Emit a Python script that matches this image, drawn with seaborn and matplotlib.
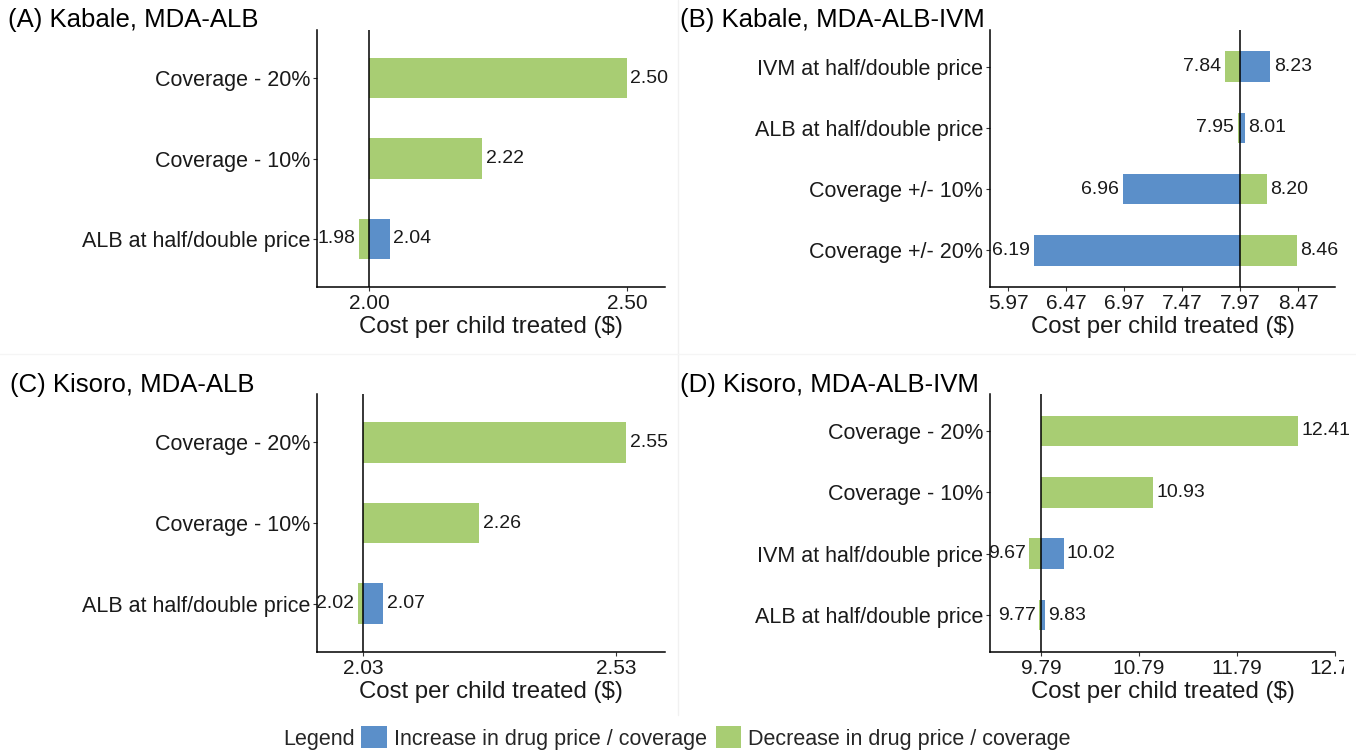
import matplotlib
matplotlib.use("Agg")
import matplotlib.pyplot as plt
import seaborn as sns
import pandas as pd
from matplotlib.patches import Patch
from matplotlib.transforms import Bbox, TransformedBbox

sns.set_theme(style="white")
plt.rcParams['font.family'] = ['Liberation Sans', 'DejaVu Sans']

BLUE = "#5B8FC9"
GREEN = "#A8CD73"

# ---------------- data ----------------
# (A) Kabale, MDA-ALB
a_params = ["Coverage - 20%", "Coverage - 10%", "ALB at half/double price"]
a_base = 2.00
a_low = [None, None, 1.98]
a_high = [2.50, 2.22, 2.04]
a_low_col = [None, None, "dec"]
a_high_col = ["dec", "dec", "inc"]
a_ticks = [2.00, 2.50]
a_ticklabels = ["2.00", "2.50"]

# (B) Kabale, MDA-ALB-IVM
b_params = ["IVM at half/double price", "ALB at half/double price",
            "Coverage +/- 10%", "Coverage +/- 20%"]
b_base = 7.97
b_low = [7.84, 7.95, 6.96, 6.19]
b_high = [8.23, 8.01, 8.20, 8.46]
b_low_col = ["dec", "dec", "inc", "inc"]
b_high_col = ["inc", "inc", "dec", "dec"]
b_ticks = [5.97, 6.47, 6.97, 7.47, 7.97, 8.47]
b_ticklabels = ["5.97", "6.47", "6.97", "7.47", "7.97", "8.47"]

# (C) Kisoro, MDA-ALB
c_params = ["Coverage - 20%", "Coverage - 10%", "ALB at half/double price"]
c_base = 2.03
c_low = [None, None, 2.02]
c_high = [2.55, 2.26, 2.07]
c_low_col = [None, None, "dec"]
c_high_col = ["dec", "dec", "inc"]
c_ticks = [2.03, 2.53]
c_ticklabels = ["2.03", "2.53"]

# (D) Kisoro, MDA-ALB-IVM
d_params = ["Coverage - 20%", "Coverage - 10%", "IVM at half/double price",
            "ALB at half/double price"]
d_base = 9.79
d_low = [None, None, 9.67, 9.77]
d_high = [12.41, 10.93, 10.02, 9.83]
d_low_col = [None, None, "dec", "dec"]
d_high_col = ["dec", "dec", "inc", "inc"]
d_ticks = [9.79, 10.79, 11.79, 12.79]
d_ticklabels = ["9.79", "10.79", "11.79", "12.79"]

titles = ["(A) Kabale, MDA-ALB", "(B) Kabale, MDA-ALB-IVM",
          "(C) Kisoro, MDA-ALB", "(D) Kisoro, MDA-ALB-IVM"]
legend_labels = ["Increase in drug price / coverage",
                 "Decrease in drug price / coverage"]
xlabel = "Cost per child treated ($)"

# ---------------- layout ----------------
W, H = 1356, 751
fig = plt.figure(figsize=(W / 100, H / 100), dpi=100)


def box(l, t, r, b):
    return [l / W, 1 - b / H, (r - l) / W, (b - t) / H]


panels = [
    dict(params=a_params, base=a_base, low=a_low, high=a_high, lc=a_low_col, hc=a_high_col,
         ticks=a_ticks, tl=a_ticklabels, rect=box(317, 30, 665, 287), xlim=(1.899, 2.574),
         title_xy=(8, 20)),
    dict(params=b_params, base=b_base, low=b_low, high=b_high, lc=b_low_col, hc=b_high_col,
         ticks=b_ticks, tl=b_ticklabels, rect=box(990, 30, 1335, 287), xlim=(5.815, 8.789),
         title_xy=(680, 20)),
    dict(params=c_params, base=c_base, low=c_low, high=c_high, lc=c_low_col, hc=c_high_col,
         ticks=c_ticks, tl=c_ticklabels, rect=box(317, 394, 665, 652), xlim=(1.939, 2.627),
         title_xy=(10, 385)),
    dict(params=d_params, base=d_base, low=d_low, high=d_high, lc=d_low_col, hc=d_high_col,
         ticks=d_ticks, tl=d_ticklabels, rect=box(990, 394, 1335, 652), xlim=(9.27, 12.79),
         title_xy=(680, 385)),
]

colmap = {"inc": BLUE, "dec": GREEN}

# faint panel separators
fig.add_artist(plt.Line2D([678 / W, 678 / W], [1 - 715 / H, 1], color="#f1f1f1", lw=1))
fig.add_artist(plt.Line2D([0, 1], [1 - 354 / H, 1 - 354 / H], color="#f5f5f5", lw=1))

axes = []
for i, p in enumerate(panels):
    ax = fig.add_axes(p["rect"])
    axes.append(ax)
    rows = []
    for k, prm in enumerate(p["params"]):
        if p["low"][k] is not None:
            rows.append(dict(param=prm, value=p["low"][k], kind=p["lc"][k], side="low"))
        rows.append(dict(param=prm, value=p["high"][k], kind=p["hc"][k], side="high"))
    df = pd.DataFrame(rows)
    ypos = {prm: k for k, prm in enumerate(p["params"])}
    base = p["base"]
    for _, r in df.iterrows():
        y = ypos[r["param"]]
        ax.barh(y, r["value"] - base, left=base, height=0.5,
                color=colmap[r["kind"]], edgecolor="none", zorder=2)
        if r["value"] >= base:
            ax.annotate(f"{r['value']:.2f}", (r["value"], y), xytext=(2.5, 0),
                        textcoords="offset points", ha="left", va="center",
                        fontsize=14, color="#1a1a1a", zorder=3)
        else:
            ax.annotate(f"{r['value']:.2f}", (r["value"], y), xytext=(-2.5, 0),
                        textcoords="offset points", ha="right", va="center",
                        fontsize=14, color="#1a1a1a", zorder=3)
    ax.axvline(base, color="black", lw=1.1, zorder=4)
    n = len(p["params"])
    ax.set_ylim(n - 1 + 0.6, -0.6)
    ax.set_yticks(range(n))
    ax.set_yticklabels(p["params"], fontsize=15.5, color="#1a1a1a")
    ax.set_xlim(*p["xlim"])
    ax.set_xticks(p["ticks"])
    ax.set_xticklabels(p["tl"], fontsize=15, color="#1a1a1a")
    ax.set_xlabel(xlabel, fontsize=17.3, color="#1a1a1a", labelpad=2)
    sns.despine(ax=ax)
    for s in ["left", "bottom"]:
        ax.spines[s].set_color("black")
        ax.spines[s].set_linewidth(1.1)
    ax.tick_params(axis="both", which="both", length=3, width=0.8, color="#333333",
                   pad=2, left=True, bottom=True)
    ax.grid(False)
    tx, ty = p["title_xy"]
    fig.text(tx / W, 1 - ty / H, titles[i], fontsize=18.5, ha="left", va="center",
             color="black")

# clip the last tick label of panel D like the reference
clipbox = TransformedBbox(Bbox([[0, 0], [1344 / W, 1]]), fig.transFigure)
for lab in axes[3].get_xticklabels():
    lab.set_clip_box(clipbox)
    lab.set_clip_on(True)

# legend
fig.text(355 / W, 1 - 739.5 / H, "Legend", fontsize=15.5, ha="right", va="center")
handles = [Patch(facecolor=BLUE, edgecolor="none"), Patch(facecolor=GREEN, edgecolor="none")]
fig.legend(handles, legend_labels, ncol=2, loc="center left",
           bbox_to_anchor=(361 / W, 1 - 738 / H), frameon=False, fontsize=15.5,
           handlelength=1.2, handleheight=1.2, handletextpad=0.33, columnspacing=0.4,
           borderpad=0, borderaxespad=0)

fig.savefig("out.png", dpi=100)
